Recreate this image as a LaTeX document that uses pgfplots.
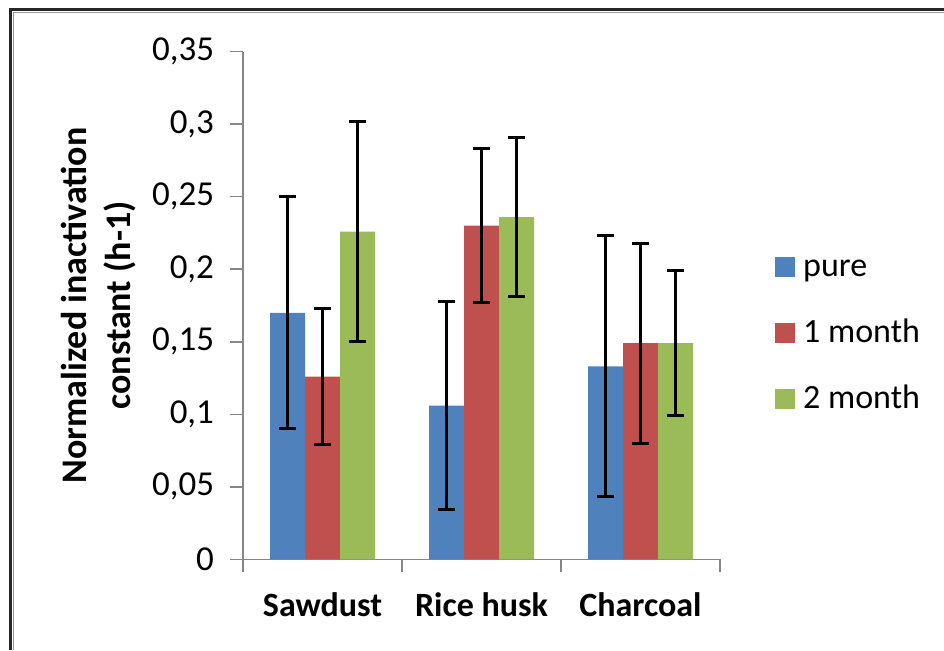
\documentclass[border=0pt]{standalone}
\usepackage{pgfplots}
\pgfplotsset{compat=1.18}
\usepackage{fontspec}
\setmainfont{Carlito}
\definecolor{cblue}{HTML}{4F81BD}
\definecolor{cred}{HTML}{C0504D}
\definecolor{cgreen}{HTML}{9BBB59}
\definecolor{axgray}{HTML}{868686}
\begin{document}
\begin{tikzpicture}[x=1pt,y=1pt]
\useasboundingbox (0,0) rectangle (944,-650);
\draw[line width=1.5pt, black!40] (13.5,-650) -- (13.5,-12.5) -- (944,-12.5);
\draw[line width=3pt, black!85] (10.5,-650) -- (10.5,-9.5) -- (944,-9.5);
\begin{axis}[
  at={(243pt,-559.3pt)}, anchor=south west,
  scale only axis, width=477pt, height=507.6pt,
  xmin=-0.5, xmax=2.5, ymin=0, ymax=0.35,
  ybar=0pt, bar width=35pt,
  axis x line=bottom, axis y line=left,
  axis line style={-, draw=axgray, line width=1.5pt},
  tick align=outside, major tick length=12.5pt,
  tick style={draw=axgray, line width=1.5pt},
  ytick={0,0.05,0.1,0.15,0.2,0.25,0.3,0.35},
  /pgf/number format/assume math mode=true,
  every tick label/.append style={font=\fontsize{35}{40}\selectfont},
  yticklabel style={xshift=-13pt, /pgf/number format/.cd, use comma, fixed, precision=2},
  xtick={-0.5,0.5,1.5,2.5}, xticklabels={},
  extra x ticks={0,1,2},
  extra x tick labels={Sawdust,Rice husk,Charcoal},
  extra x tick style={tick style={draw=none}, tick label style={yshift=-17pt, font=\bfseries\fontsize{34}{38}\selectfont}},
  ylabel={Normalized inactivation\\constant (h-1)},
  ylabel style={align=center, font=\bfseries\fontsize{36}{44}\selectfont, at={(axis description cs:-0.302,0.5)}, anchor=center},
  clip=false,
  error bars/y dir=both, error bars/y explicit,
  error bars/error bar style={draw=black, line width=3pt},
  error bars/error mark options={draw=black, line width=3pt, mark size=8.5pt, rotate=90},
  legend image code/.code={\path[#1, draw=none] (0pt,-10pt) rectangle (20pt,10pt);},
  legend cell align=left,
  legend style={at={(1.1153,0.4468)}, anchor=west, draw=none, fill=none,
    inner xsep=0pt, inner ysep=0pt, row sep=38pt,
    font=\fontsize{34}{38}\selectfont,
    nodes={inner sep=0pt, text height=24pt, text depth=4pt},
    /tikz/every odd column/.append style={column sep=8pt}},
]
\addplot[fill=cblue, draw=none] coordinates {(0,0.170) +- (0,0.080) (1,0.106) +- (0,0.072) (2,0.133) +- (0,0.090)};
\addplot[fill=cred, draw=none] coordinates {(0,0.126) +- (0,0.047) (1,0.230) +- (0,0.053) (2,0.149) +- (0,0.069)};
\addplot[fill=cgreen, draw=none] coordinates {(0,0.226) +- (0,0.076) (1,0.236) +- (0,0.055) (2,0.149) +- (0,0.050)};
\legend{pure,1 month,2 month}
\end{axis}
\end{tikzpicture}
\end{document}
